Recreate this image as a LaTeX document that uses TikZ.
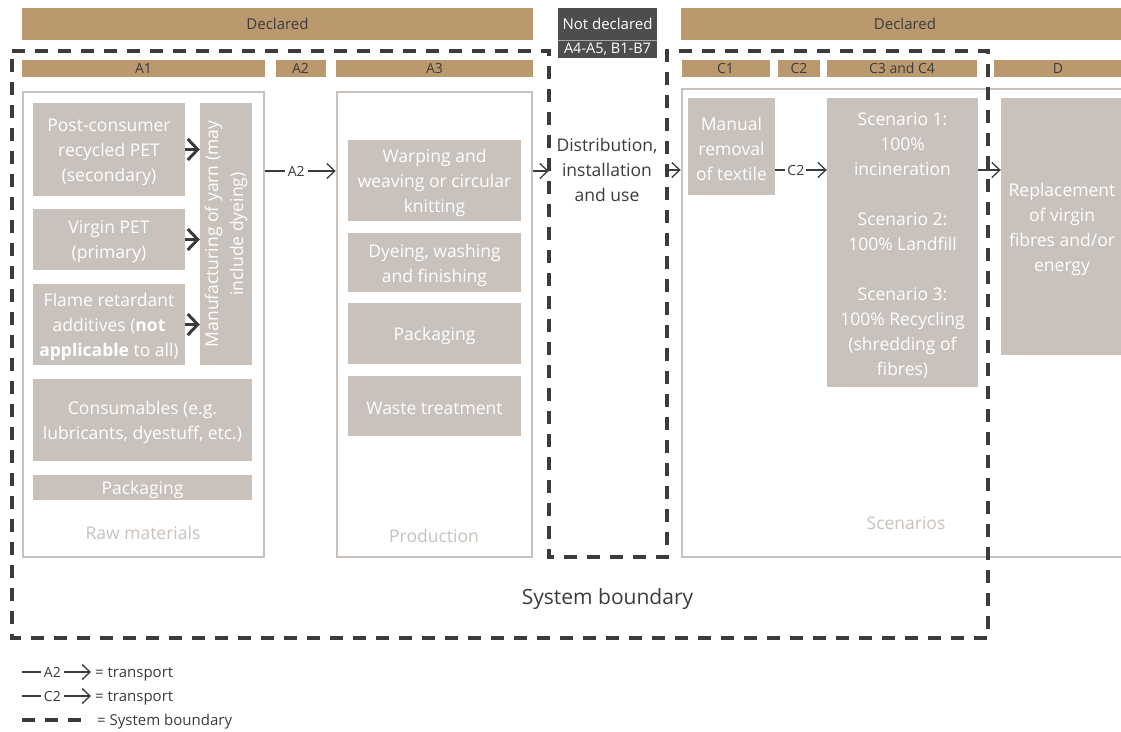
\documentclass[tikz,border=0pt]{standalone}
\usepackage{fontspec}
\setmainfont{Open Sans}
\usetikzlibrary{arrows.meta}
\definecolor{tanc}{RGB}{187,153,110}
\definecolor{boxc}{RGB}{200,193,188}
\definecolor{darkt}{RGB}{59,59,59}
\definecolor{ndc}{RGB}{77,77,77}
\begin{document}
\begin{tikzpicture}[x=1pt,y=-1pt,
  fb/.style={fill=boxc, inner sep=0pt},
  fbt/.style={text=white, inner sep=0pt, align=center, yshift=-2.5pt, font=\fontsize{17.5}{25}\selectfont},
  frame/.style={draw=boxc, line width=2.5pt, inner sep=0pt},
  flbl/.style={text=boxc, inner sep=0pt, font=\fontsize{17.5}{25}\selectfont},
  bar/.style={fill=tanc, text=darkt, inner sep=0pt, font=\fontsize{15}{17}\selectfont},
  sbar/.style={fill=tanc, text=darkt, inner sep=0pt, font=\fontsize{14}{15}\selectfont},
  ndbox/.style={fill=ndc, text=white, inner sep=0pt, font=\fontsize{15}{17}\selectfont},
  bnd/.style={draw=darkt, line width=3.2pt, dash pattern=on 13pt off 10pt},
  arr/.style={draw=darkt, line width=1.3pt, -{Straight Barb[length=8pt,width=15pt]}},
  thickarr/.style={draw=darkt, line width=3pt, -{Straight Barb[length=10pt,width=21pt]}},
  tlbl/.style={fill=white, text=darkt, inner sep=3pt, font=\fontsize{14}{16}\selectfont},
  legt/.style={text=darkt, inner sep=0pt, anchor=west, font=\fontsize{15}{17}\selectfont},
  plain/.style={text=darkt, inner sep=0pt, align=center, font=\fontsize{17.5}{25}\selectfont}
]
\useasboundingbox (0,0) rectangle (1121,731);
\begin{scope}
\clip (0,0) rectangle (1121,731);
% header bars
\node[bar, minimum width=511pt, minimum height=32pt] (decl1) at (277.5,24) {Declared};
\node[ndbox, minimum width=99pt, minimum height=32pt] (nd1) at (607.5,24) {Not declared};
\node[ndbox, minimum width=99pt, minimum height=18pt, font=\fontsize{14.5}{15}\selectfont] (nd2) at (607.5,49) {A4-A5, B1-B7};
\draw[draw=gray!70, line width=0.6pt] (nd1.south west) -- (nd1.south east);
\node[bar, minimum width=448pt, minimum height=32pt] (decl2) at (905,24) {Declared};
% module bars
\node[sbar, minimum width=243pt, minimum height=17pt] (bA1) at (143.5,68.5) {A1};
\node[sbar, minimum width=50pt, minimum height=17pt] (bA2) at (300.5,68.5) {A2};
\node[sbar, minimum width=197pt, minimum height=17pt] (bA3) at (434.5,68.5) {A3};
\node[sbar, minimum width=88pt, minimum height=17pt] (bC1) at (725.5,68.5) {C1};
\node[sbar, minimum width=42pt, minimum height=17pt] (bC2) at (799,68.5) {C2};
\node[sbar, minimum width=150pt, minimum height=17pt] (bC3) at (902,68.5) {C3 and C4};
\node[sbar, minimum width=128pt, minimum height=17pt] (bD) at (1058,68.5) {D};
% frames
\node[frame, minimum width=241pt, minimum height=465pt] (raw) at (143.5,324.5) {};
\node[frame, minimum width=195pt, minimum height=465pt] (prod) at (434.5,324.5) {};
\node[frame, minimum width=460pt, minimum height=468pt] (scenfr) at (912,323) {};
\node[flbl] (rawl) at (143,533) {Raw materials};
\node[flbl] (prodl) at (434,536) {Production};
\node[flbl] (scenl) at (906,523) {Scenarios};
% raw material boxes
\node[fb, minimum width=152pt, minimum height=93pt, label={[fbt]center:{Post-consumer\\recycled PET\\(secondary)}}] (post) at (109,149.5) {};
\node[fb, minimum width=152pt, minimum height=61pt, label={[fbt]center:{Virgin PET\\(primary)}}] (virgin) at (109,239.5) {};
\node[fb, minimum width=152pt, minimum height=81pt, label={[fbt]center:{Flame retardant\\additives (\textbf{not}\\\textbf{applicable} to all)}}] (flame) at (109,324.5) {};
\node[fb, rotate=90, minimum width=262pt, minimum height=52pt, text=white, align=center, font=\fontsize{17.5}{25}\selectfont] (manuf) at (226,234) {Manufacturing of yarn (may\\include dyeing)};
\node[fb, minimum width=219pt, minimum height=82pt, label={[fbt]center:{Consumables (e.g.\\lubricants, dyestuff, etc.)}}] (consum) at (142.5,420) {};
\node[fb, minimum width=219pt, minimum height=25pt, label={[fbt]center:{Packaging}}] (pack1) at (142.5,487.5) {};
% production boxes
\node[fb, minimum width=173pt, minimum height=81pt, label={[fbt]center:{Warping and\\weaving or circular\\knitting}}] (warp) at (434.5,180.5) {};
\node[fb, minimum width=173pt, minimum height=59pt, label={[fbt]center:{Dyeing, washing\\and finishing}}] (dye) at (434.5,262.5) {};
\node[fb, minimum width=173pt, minimum height=61pt, label={[fbt]center:{Packaging}}] (pack2) at (434.5,333.5) {};
\node[fb, minimum width=173pt, minimum height=60pt, label={[fbt]center:{Waste treatment}}] (waste) at (434.5,406) {};
% end of life
\node[fb, minimum width=87pt, minimum height=97pt, label={[fbt]center:{Manual\\removal\\of textile}}] (manual) at (731.5,146.5) {};
\node[fb, minimum width=151pt, minimum height=289pt, label={[fbt]center:{Scenario 1:\\100\%\\incineration\\[25pt]Scenario 2:\\100\% Landfill\\[25pt]Scenario 3:\\100\% Recycling\\(shredding of\\fibres)}}] (scen) at (902.5,242.5) {};
\node[fb, minimum width=122pt, minimum height=257pt, label={[fbt]center:{Replacement\\of virgin\\fibres and/or\\energy}}] (repl) at (1062,226.5) {};
% distribution
\node[inner sep=0pt, minimum width=118pt, minimum height=506pt] (distbox) at (608,304) {};
\node[plain] (dist) at (607,170) {Distribution,\\installation\\and use};
% system boundary
\draw[bnd] (12,51) -- (549,51) -- (549,557) -- (667,557) -- (667,51) -- (988,51) -- (988,638) -- (12,638) -- cycle;
\node[text=darkt, inner sep=0pt, font=\fontsize{21}{24}\selectfont] (sysb) at (607.5,599) {System boundary};
% connectors
\coordinate (flow) at (0,171);
\coordinate (flow2) at (0,170);
\draw[thickarr] (post.east) -- (post.east -| manuf.north);
\draw[thickarr] (virgin.east) -- (virgin.east -| manuf.north);
\draw[thickarr] (flame.east) -- (flame.east -| manuf.north);
\draw[arr] (raw.east |- flow) -- node[tlbl, pos=0.44]{A2} (prod.west |- flow);
\draw[arr] (prod.east |- flow) -- (distbox.west |- flow);
\draw[arr] (distbox.east |- flow2) -- (scenfr.west |- flow2);
\draw[arr] (manual.east |- flow2) -- node[tlbl, pos=0.4, inner sep=2pt]{C2} (scen.west |- flow2);
\draw[arr] (scen.east |- flow2) -- (repl.west |- flow2);
% legend
\coordinate (l1a) at (22,672); \coordinate (l1b) at (91,672);
\coordinate (l2a) at (22,696); \coordinate (l2b) at (91,696);
\coordinate (l3a) at (22,720); \coordinate (l3b) at (83,720);
\draw[arr] (l1a) -- node[tlbl, pos=0.44]{A2} (l1b);
\node[legt] (lt1) at (95,674) {= transport};
\draw[arr] (l2a) -- node[tlbl, pos=0.44]{C2} (l2b);
\node[legt] (lt2) at (95,698) {= transport};
\draw[bnd] (l3a) -- (l3b);
\node[legt] (lt3) at (97,722) {= System boundary};
\end{scope}
\end{tikzpicture}
\end{document}
